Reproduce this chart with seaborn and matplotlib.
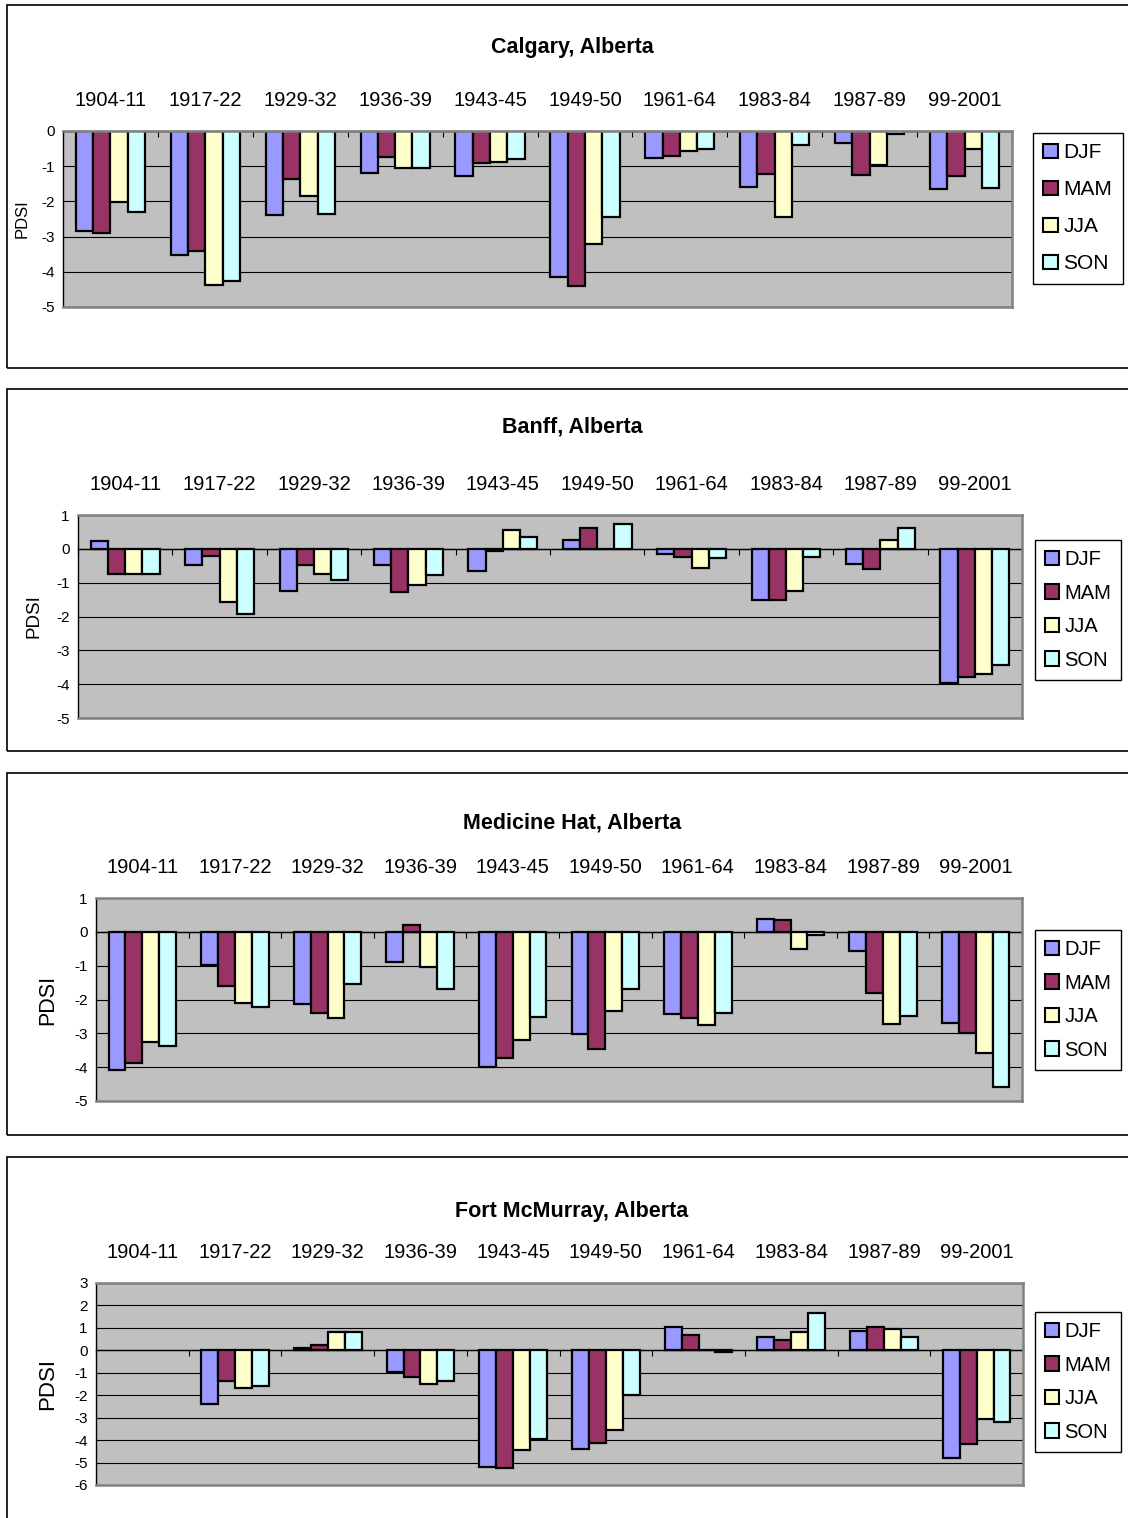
import numpy as np
import pandas as pd
import matplotlib
matplotlib.use("Agg")
import matplotlib.pyplot as plt
from matplotlib.patches import Rectangle
import seaborn as sns

# ---- data -------------------------------------------------------------
periods = ["1904-11", "1917-22", "1929-32", "1936-39", "1943-45",
           "1949-50", "1961-64", "1983-84", "1987-89", "99-2001"]
seasons = ["DJF", "MAM", "JJA", "SON"]
season_colors = ["#9999FF", "#993366", "#FFFFCC", "#CCFFFF"]

calgary_djf = [-2.85, -3.51, -2.39, -1.19, -1.27, -4.14, -0.76, -1.59, -0.33, -1.66]
calgary_mam = [-2.90, -3.40, -1.35, -0.74, -0.92, -4.40, -0.71, -1.21, -1.25, -1.28]
calgary_jja = [-2.03, -4.37, -1.86, -1.04, -0.88, -3.20, -0.56, -2.45, -0.96, -0.51]
calgary_son = [-2.31, -4.25, -2.37, -1.04, -0.79, -2.45, -0.50, -0.40, -0.09, -1.63]

banff_djf = [0.22, -0.47, -1.24, -0.47, -0.65, 0.27, -0.15, -1.52, -0.44, -3.97]
banff_mam = [-0.73, -0.20, -0.49, -1.28, -0.05, 0.63, -0.23, -1.52, -0.61, -3.80]
banff_jja = [-0.75, -1.57, -0.75, -1.07, 0.55, 0.00, -0.58, -1.26, 0.27, -3.71]
banff_son = [-0.73, -1.92, -0.93, -0.77, 0.36, 0.72, -0.27, -0.25, 0.62, -3.44]

medhat_djf = [-4.07, -0.99, -2.13, -0.88, -4.00, -3.02, -2.43, 0.37, -0.56, -2.70]
medhat_mam = [-3.87, -1.61, -2.40, 0.20, -3.73, -3.46, -2.55, 0.34, -1.81, -2.98]
medhat_jja = [-3.25, -2.11, -2.56, -1.05, -3.19, -2.34, -2.76, -0.51, -2.72, -3.59]
medhat_son = [-3.38, -2.22, -1.55, -1.69, -2.53, -1.69, -2.39, -0.09, -2.49, -4.60]

fortmc_djf = [np.nan, -2.37, 0.12, -0.96, -5.21, -4.39, 1.06, 0.58, 0.84, -4.81]
fortmc_mam = [np.nan, -1.36, 0.24, -1.18, -5.25, -4.13, 0.69, 0.46, 1.03, -4.18]
fortmc_jja = [np.nan, -1.67, 0.81, -1.49, -4.43, -3.54, 0.00, 0.81, 0.97, -3.04]
fortmc_son = [np.nan, -1.61, 0.81, -1.37, -3.96, -2.01, -0.08, 1.67, 0.61, -3.18]

stations = ["Calgary, Alberta", "Banff, Alberta",
            "Medicine Hat, Alberta", "Fort McMurray, Alberta"]
station_values = [
    [calgary_djf, calgary_mam, calgary_jja, calgary_son],
    [banff_djf, banff_mam, banff_jja, banff_son],
    [medhat_djf, medhat_mam, medhat_jja, medhat_son],
    [fortmc_djf, fortmc_mam, fortmc_jja, fortmc_son],
]
y_ranges = [(-5, 0), (-5, 1), (-5, 1), (-6, 3)]


def long_frame(series):
    rows = []
    for season, vals in zip(seasons, series):
        for period, v in zip(periods, vals):
            if not np.isnan(v):
                rows.append({"period": period, "season": season, "pdsi": v})
    return pd.DataFrame(rows)


# ---- layout (pixels) ---------------------------------------------------
W, H = 1128, 1518
layout = [
    dict(plot=(63, 131, 1012, 307), frame=(5, 368), title_y=48,
         legend=(1033, 133), leg_fs=15, leg_sp=0.86, ylab_fs=12, ylab_x=30),
    dict(plot=(78, 515, 1022, 718), frame=(389, 751), title_y=427,
         legend=(1035, 540), leg_fs=14.5, leg_sp=0.72, ylab_fs=13.5, ylab_x=43),
    dict(plot=(96, 898, 1022, 1101), frame=(773, 1135), title_y=823,
         legend=(1035, 930), leg_fs=14.5, leg_sp=0.72, ylab_fs=15.5, ylab_x=58),
    dict(plot=(96, 1283, 1023, 1485), frame=(1157, 1522), title_y=1212,
         legend=(1035, 1312), leg_fs=14.5, leg_sp=0.72, ylab_fs=16, ylab_x=58),
]

sns.set_style("white")
plt.rcParams["font.family"] = ["Liberation Sans", "DejaVu Sans"]
plt.rcParams["axes.unicode_minus"] = False
for key in ("text.color", "axes.labelcolor", "xtick.color", "ytick.color"):
    plt.rcParams[key] = "black"

fig = plt.figure(figsize=(W / 100, H / 100), dpi=100)
fig.patch.set_facecolor("white")


def px_rect(l, t, r, b):
    return [l / W, 1 - b / H, (r - l) / W, (b - t) / H]


for name, series, (ymin, ymax), cfg in zip(stations, station_values, y_ranges, layout):
    # outer chart frame
    ft, fb = cfg["frame"]
    fig.add_artist(Rectangle((7 / W, 1 - fb / H), 1.2, (fb - ft) / H,
                             transform=fig.transFigure, fill=False,
                             edgecolor="black", linewidth=1.2))

    l, t, r, b = cfg["plot"]
    ax = fig.add_axes(px_rect(l, t, r, b))
    df = long_frame(series)
    sns.barplot(data=df, x="period", y="pdsi", hue="season",
                order=periods, hue_order=seasons, palette=season_colors,
                saturation=1, width=0.73, gap=0, errorbar=None,
                edgecolor="black", linewidth=1.6, ax=ax)

    ax.set_facecolor("#C0C0C0")
    ax.set_xlim(-0.5, len(periods) - 0.5)
    ax.set_ylim(ymin, ymax)
    ax.set_yticks(range(ymin, ymax + 1))
    ax.set_axisbelow(True)
    ax.yaxis.grid(True, color="black", linewidth=0.8)
    ax.xaxis.grid(False)

    for side in ("top", "right", "bottom"):
        ax.spines[side].set_color("#808080")
        ax.spines[side].set_linewidth(1.8)
    ax.spines["left"].set_color("black")
    ax.spines["left"].set_linewidth(1.0)

    # category labels above the plot area
    ax.xaxis.tick_top()
    ax.tick_params(axis="x", length=0, pad=15, labelsize=14.5)
    ax.set_xlabel("")
    ax.tick_params(axis="y", length=4, width=0.8, direction="out",
                   labelsize=11, pad=2, color="black")

    # category axis crossing at zero with separator ticks
    loc0 = (0 - ymin) / (ymax - ymin)
    sec = ax.secondary_xaxis(loc0)
    sec.set_xticks(np.arange(-0.5, len(periods)))
    sec.tick_params(direction="in", length=4, width=0.8, color="black",
                    labeltop=False, labelbottom=False)
    for sp in sec.spines.values():
        sp.set_color("black")
        sp.set_linewidth(1.0)

    ax.set_ylabel("PDSI", fontsize=cfg["ylab_fs"])
    ax.yaxis.set_label_coords((cfg["ylab_x"] - l) / (r - l), 0.5)

    # legend
    old = ax.get_legend()
    handles = list(old.legend_handles)
    labels = [tx.get_text() for tx in old.get_texts()]
    lx, ly = cfg["legend"]
    leg = ax.legend(handles, labels, loc="upper left",
                    bbox_to_anchor=(lx / W, 1 - ly / H),
                    bbox_transform=fig.transFigure, frameon=True,
                    fancybox=False, framealpha=1, edgecolor="black",
                    fontsize=cfg["leg_fs"], handlelength=0.7,
                    handleheight=0.7, handletextpad=0.25,
                    labelspacing=cfg["leg_sp"], borderpad=0.5,
                    borderaxespad=0)
    leg.get_frame().set_linewidth(1.0)
    for h, c in zip(leg.legend_handles, season_colors):
        h.set_facecolor(c)
        h.set_edgecolor("black")
        h.set_linewidth(1.5)

    fig.text(572 / W, 1 - cfg["title_y"] / H, name, ha="center", va="center",
             fontsize=15.5, fontweight="bold")

fig.savefig("out.png", dpi=100, facecolor="white")
